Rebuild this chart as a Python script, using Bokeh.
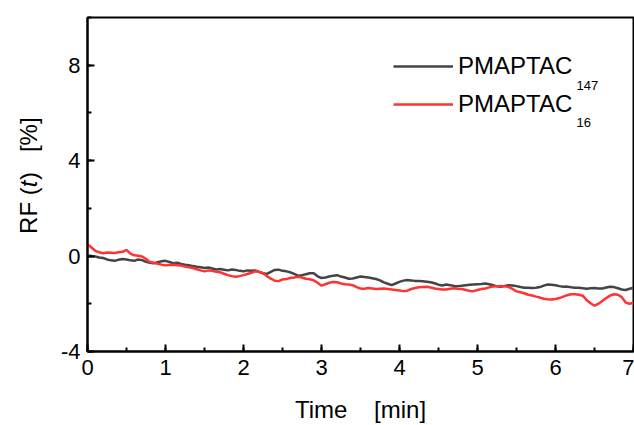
import math
from bokeh.plotting import figure
from bokeh.models import (Range1d, SingleIntervalTicker, Label, Legend, LegendItem)
from bokeh.layouts import row
from bokeh.embed import file_html
from bokeh.resources import INLINE

rf_pmaptac147 = [
    0.02, 0.00, -0.02, -0.06, -0.08, -0.14, -0.18, -0.20, -0.15, -0.12,
    -0.14, -0.18, -0.20, -0.14, -0.17, -0.24, -0.28, -0.30, -0.26, -0.22,
    -0.20, -0.25, -0.30, -0.28, -0.33, -0.36, -0.38, -0.42, -0.45, -0.47,
    -0.50, -0.48, -0.52, -0.56, -0.54, -0.57, -0.60, -0.56, -0.58, -0.62,
    -0.64, -0.60, -0.62, -0.60, -0.66, -0.72, -0.75, -0.66, -0.58, -0.57,
    -0.62, -0.64, -0.68, -0.75, -0.82, -0.80, -0.76, -0.72, -0.72, -0.85,
    -0.92, -0.90, -0.86, -0.82, -0.80, -0.86, -0.90, -0.95, -0.94, -0.90,
    -0.86, -0.88, -0.90, -0.93, -0.96, -1.02, -1.10, -1.16, -1.22, -1.15,
    -1.08, -1.03, -1.00, -1.02, -1.04, -1.05, -1.06, -1.08, -1.10, -1.14,
    -1.20, -1.23, -1.19, -1.22, -1.25, -1.26, -1.24, -1.22, -1.20, -1.19,
    -1.18, -1.17, -1.15, -1.18, -1.22, -1.27, -1.29, -1.25, -1.22, -1.23,
    -1.26, -1.30, -1.33, -1.33, -1.34, -1.33, -1.30, -1.24, -1.19, -1.20,
    -1.22, -1.26, -1.29, -1.28, -1.31, -1.33, -1.33, -1.35, -1.37, -1.35,
    -1.34, -1.36, -1.36, -1.32, -1.29, -1.30, -1.35, -1.40, -1.42, -1.37,
    -1.33,
]

rf_pmaptac16 = [
    0.50, 0.36, 0.22, 0.16, 0.12, 0.15, 0.14, 0.13, 0.16, 0.18,
    0.26, 0.10, 0.03, 0.01, -0.02, -0.12, -0.25, -0.28, -0.32, -0.36,
    -0.39, -0.37, -0.36, -0.38, -0.40, -0.44, -0.47, -0.50, -0.55, -0.60,
    -0.64, -0.60, -0.62, -0.66, -0.68, -0.74, -0.80, -0.84, -0.87, -0.84,
    -0.80, -0.75, -0.70, -0.64, -0.66, -0.72, -0.84, -0.95, -1.03, -1.05,
    -0.98, -0.96, -0.92, -0.90, -0.87, -0.90, -0.95, -0.97, -1.02, -1.12,
    -1.24, -1.18, -1.12, -1.09, -1.10, -1.15, -1.18, -1.19, -1.22, -1.30,
    -1.36, -1.37, -1.34, -1.36, -1.38, -1.37, -1.36, -1.38, -1.40, -1.42,
    -1.44, -1.47, -1.45, -1.38, -1.34, -1.31, -1.30, -1.29, -1.32, -1.36,
    -1.38, -1.40, -1.40, -1.37, -1.35, -1.37, -1.38, -1.42, -1.46, -1.47,
    -1.42, -1.38, -1.36, -1.31, -1.28, -1.26, -1.25, -1.27, -1.30, -1.38,
    -1.48, -1.52, -1.56, -1.62, -1.65, -1.70, -1.74, -1.79, -1.81, -1.82,
    -1.80, -1.76, -1.70, -1.64, -1.60, -1.60, -1.62, -1.66, -1.85, -1.98,
    -2.08, -2.00, -1.88, -1.76, -1.66, -1.60, -1.62, -1.72, -1.95, -2.00,
    -1.95,
]

time_min = [round(i * 0.05, 2) for i in range(len(rf_pmaptac147))]

series_names = ["PMAPTAC", "PMAPTAC"]
series_subs = ["147", "16"]
series_colors = ["#444444", "#ff3333"]

x_title = "Time\u00a0\u00a0\u00a0\u00a0[min]"
y_title_parts = ["RF (", "t", ")\u00a0\u00a0\u00a0[%]"]

FONT = "Liberation Sans"

LEFT_W = 45
H = 425

# left strip holding the y-axis title (mixed italic); same vertical frame as the plot
lab = figure(width=LEFT_W, height=H, output_backend="svg", toolbar_location=None,
             title=None, x_axis_type=None, y_axis_type=None,
             x_range=Range1d(0, LEFT_W), y_range=Range1d(-4, 10),
             min_border_left=0, min_border_right=0,
             min_border_top=17, min_border_bottom=70)
lab.grid.visible = False
lab.outline_line_color = None
lab.background_fill_color = "white"
lab.border_fill_color = "white"

styles = ["normal", "italic", "normal"]
offsets = [0, 46.7, 53.8]
for txt, style, off in zip(y_title_parts, styles, offsets):
    lab.add_layout(Label(x=28, y=0.93, y_offset=off, text=txt, angle=math.pi / 2,
                         text_font=FONT, text_font_size="24px", text_font_style=style,
                         text_color="black", text_align="left",
                         text_baseline="middle"))

p = figure(width=634 - LEFT_W, height=H, output_backend="svg", toolbar_location=None,
           x_range=Range1d(0, 7), y_range=Range1d(-4, 10),
           min_border_left=87 - LEFT_W, min_border_right=1, min_border_top=17,
           min_border_bottom=70)
p.background_fill_color = "white"
p.border_fill_color = "white"
p.outline_line_color = "black"
p.outline_line_width = 2
p.xgrid.visible = False
p.ygrid.visible = False

p.xaxis.ticker = SingleIntervalTicker(interval=1, num_minor_ticks=2)
p.yaxis.ticker = SingleIntervalTicker(interval=4, num_minor_ticks=2)
p.yaxis.major_label_overrides = {-4: "-4"}

for ax in (p.xaxis[0], p.yaxis[0]):
    ax.axis_line_width = 2
    ax.axis_line_color = "black"
    ax.major_tick_line_width = 2
    ax.minor_tick_line_width = 2
    ax.major_tick_in = 7
    ax.major_tick_out = 0
    ax.minor_tick_in = 4
    ax.minor_tick_out = 0
    ax.major_label_text_font = FONT
    ax.major_label_text_font_size = "22px"
    ax.major_label_text_color = "black"
    ax.axis_label_text_font = FONT
    ax.axis_label_text_font_size = "24px"
    ax.axis_label_text_font_style = "normal"
    ax.axis_label_text_color = "black"

p.xaxis.major_label_standoff = 8
p.xaxis.axis_label = x_title
p.xaxis.axis_label_standoff = 18
p.yaxis.major_label_standoff = 7

r1 = p.line(time_min, rf_pmaptac147, line_color=series_colors[0], line_width=2.5)
r2 = p.line(time_min, rf_pmaptac16, line_color=series_colors[1], line_width=2.5)

legend = Legend(items=[LegendItem(label=series_names[0], renderers=[r1]),
                       LegendItem(label=series_names[1], renderers=[r2])],
                location=(306, 232), padding=0, spacing=8,
                glyph_width=60, glyph_height=30, label_standoff=5,
                label_text_font=FONT, label_text_font_size="24px",
                label_text_color="black", background_fill_alpha=0,
                border_line_alpha=0, margin=0)
p.add_layout(legend)

# subscripts of legend labels
p.add_layout(Label(x=6.27, y=7.14, text=series_subs[0], text_font=FONT,
                   text_font_size="13px", text_color="black",
                   text_baseline="alphabetic"))
p.add_layout(Label(x=6.27, y=5.60, text=series_subs[1], text_font=FONT,
                   text_font_size="13px", text_color="black",
                   text_baseline="alphabetic"))

layout = row(lab, p, spacing=0)
open("out.html", "w").write(file_html(layout, INLINE))
